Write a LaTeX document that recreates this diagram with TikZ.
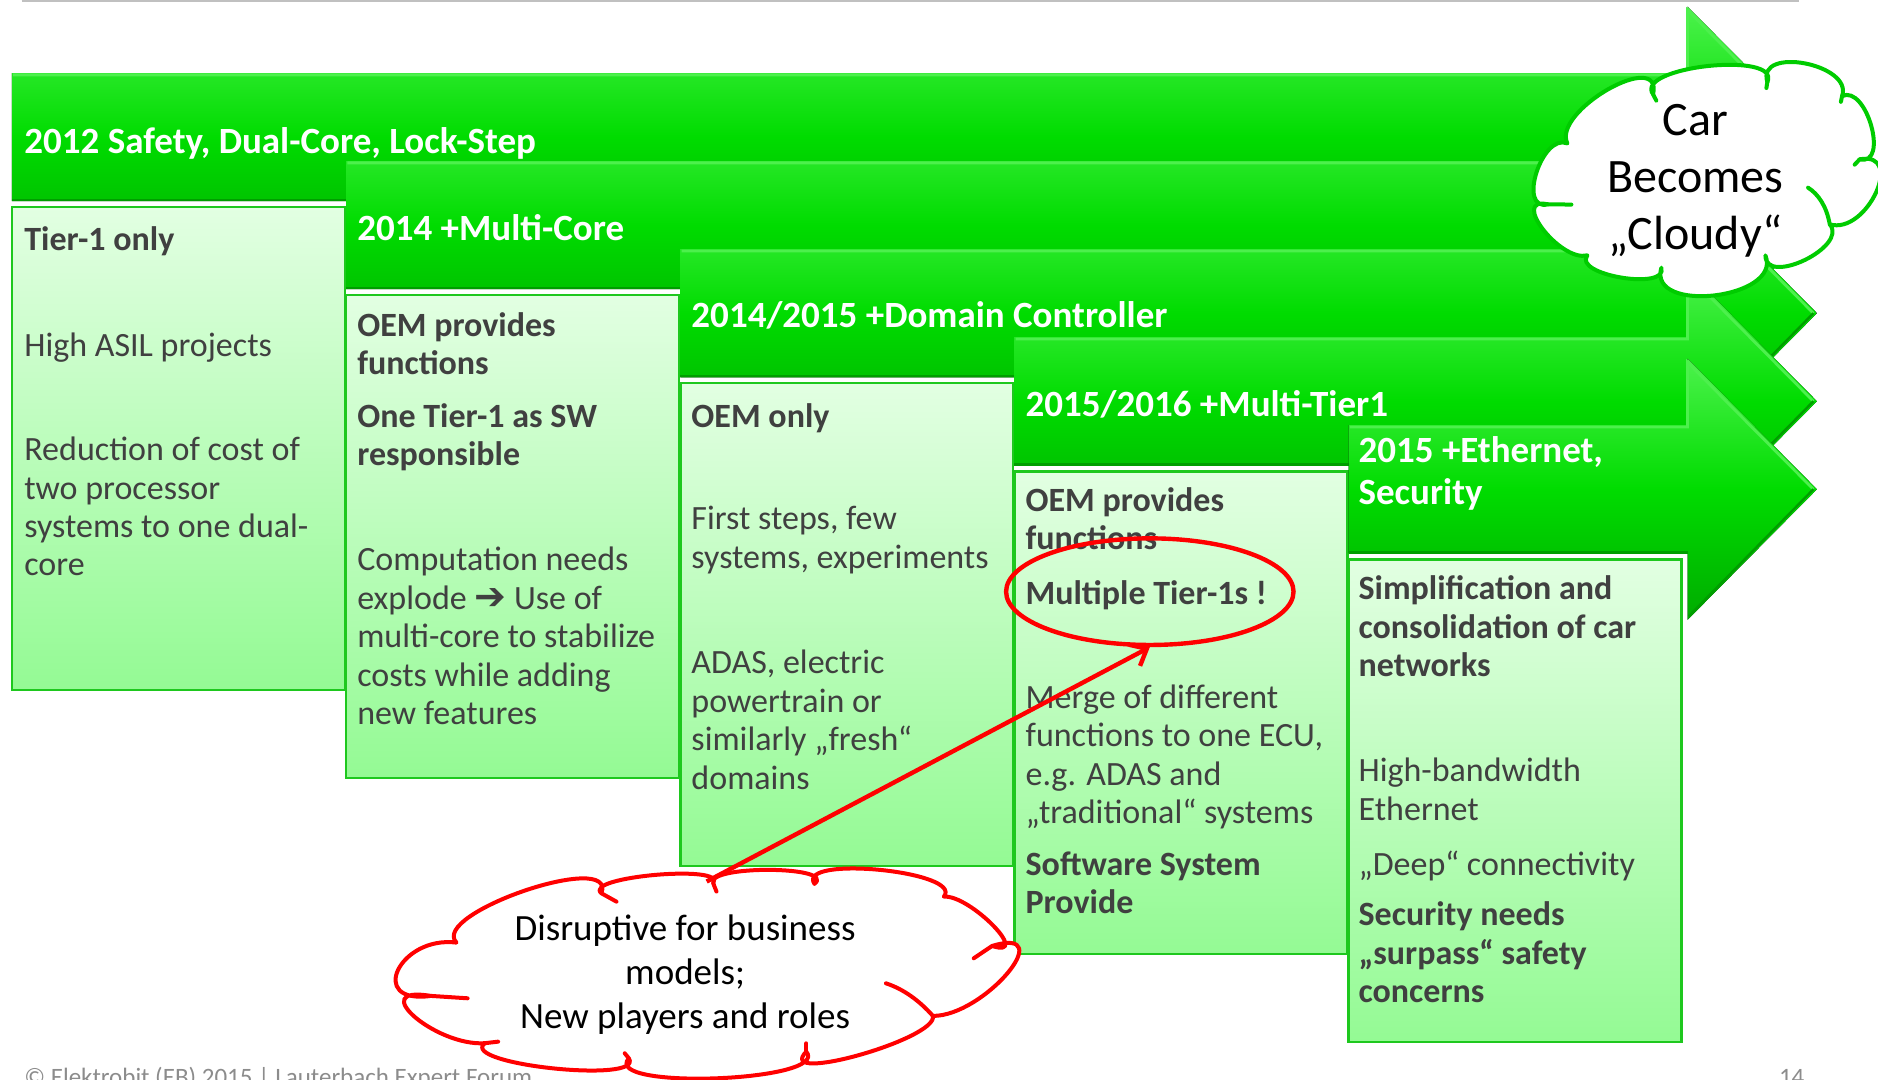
\documentclass[tikz,border=0pt]{standalone}
\usepackage{fontspec}
\setmainfont{Carlito}
\newfontfamily\symfont{DejaVu Sans}
\usetikzlibrary{shapes.geometric,arrows.meta}

% one drawing unit, in pt
\def\pu{0.59885}

\definecolor{arrowtop}{HTML}{4CF24C}
\definecolor{arrowmid}{HTML}{00DC00}
\definecolor{arrowbot}{HTML}{00AC00}
\definecolor{arrowlight}{HTML}{4DF04D}
\definecolor{arrowdark}{HTML}{009E00}
\definecolor{boxtop}{HTML}{E2FFE2}
\definecolor{boxbot}{HTML}{94FA94}
\definecolor{boxline}{HTML}{1EC81E}
\definecolor{bodytext}{HTML}{404040}
\definecolor{alertred}{HTML}{FF0000}
\definecolor{cloudgreen}{HTML}{00CC00}
\definecolor{rulegray}{HTML}{C0C0C0}
\definecolor{footgray}{HTML}{8C8C8C}

\tikzset{
  arrowbody/.style={top color=arrowtop, bottom color=arrowbot, middle color=arrowmid},
  infobox/.style={draw=boxline, line width=1.2pt, top color=boxtop, bottom color=boxbot},
  headtext/.style={anchor=north west, inner sep=0pt, align=left, text=white,
    font=\fontsize{18.5}{21}\selectfont\bfseries, yshift=14.7pt,
    execute at begin node=\strut},
  bodytxt/.style={anchor=north west, inner sep=0pt, align=left, text=bodytext,
    font=\fontsize{17}{19.2}\selectfont, yshift=11.04pt,
    execute at begin node=\strut},
  boldtxt/.style={bodytxt, font=\fontsize{17}{19.2}\selectfont\bfseries},
  cloudred/.style={draw=alertred, fill=white, line width=2pt, line join=round},
  cloudgrn/.style={draw=cloudgreen, fill=white, line width=2pt, line join=round},
  tailred/.style={draw=alertred, line width=2pt, line cap=round},
  tailgrn/.style={draw=cloudgreen, line width=2pt, line cap=round},
  redtext/.style={anchor=north, inner sep=0pt, align=center, text=black,
    font=\fontsize{18.5}{21.9}\selectfont, yshift=15.33pt,
    execute at begin node=\strut},
  greentext/.style={anchor=north, inner sep=0pt, align=center, text=black,
    font=\fontsize{24}{28.7}\selectfont, yshift=20.09pt,
    execute at begin node=\strut},
  foottext/.style={anchor=base west, inner sep=0pt, text=footgray,
    font=\fontsize{12.5}{15}\selectfont},
}

% banner arrow: #1 left edge, #2 top edge
\newcommand\bannerarrow[2]{%
  \fill[arrowbody] (#1,#2) -- (1409,#2) -- (1409,#2+53.5-109) -- (1517,#2+53.5)
    -- (1409,#2+53.5+109) -- (1409,#2+107) -- (#1,#2+107) -- cycle;
  \draw[arrowlight, line width=1.4pt] (#1+1,#2+1.5) -- (1409,#2+1.5)
    -- (1409,#2+53.5-106) -- (1514,#2+53.5);
  \draw[arrowdark, line width=1.2pt] (1514,#2+53.5) -- (1410,#2+53.5+106);
  \draw[arrowdark, line width=1.4pt] (#1,#2+106) -- (1409,#2+106);
}

% content panel: #1 left edge, #2 top edge
\newcommand\panel[2]{%
  \path[infobox] (#1,#2) rectangle (#1+278,#2+403);
}

\begin{document}
\begin{tikzpicture}[x=\pu pt, y=-\pu pt]
\useasboundingbox (0,0) rectangle (1568,901.7);
\clip (0,0) rectangle (1568,901.7);

% rule at the top
\draw[rulegray, line width=1.2pt] (18,1) -- (1502,1);

% banner arrows and their panels
\bannerarrow{10}{61}
\panel{10}{173}
\bannerarrow{289}{134.5}
\panel{289}{246.5}
\bannerarrow{568}{208}
\panel{568}{320}
\bannerarrow{847}{281.5}
\panel{847}{393.5}
\bannerarrow{1126}{355}
\panel{1126}{467}

% banner titles
\node[headtext] (h1) at (20,128) {2012 Safety, Dual-Core, Lock-Step};
\node[headtext] (h2) at (298,200.5) {2014 +Multi-Core};
\node[headtext] (h3) at (577,273) {2014/2015 +Domain Controller};
\node[headtext] (h4) at (856,347) {2015/2016 +Multi-Tier1};
\node[headtext] (h5) at (1134,388.5) {2015 +Ethernet,\\Security};

% panel 1
\node[boldtxt] (t1a) at (20,205) {Tier-1 only};
\node[bodytxt] (t1b) at (20,293) {High ASIL projects};
\node[bodytxt] (t1c) at (20,383) {Reduction of cost of\\two processor\\systems to one dual-\\core};

% panel 2
\node[boldtxt] (t2a) at (298,279) {OEM provides\\functions};
\node[boldtxt] (t2b) at (298,355) {One Tier-1 as SW\\responsible};
\node[bodytxt] (t2c) at (298,475) {Computation needs\\explode {\symfont\bfseries\fontsize{19}{19.2}\selectfont ➔} Use of\\multi-core to stabilize\\costs while adding\\new features};

% panel 3
\node[boldtxt] (t3a) at (577,353) {OEM only};
\node[bodytxt] (t3b) at (577,441) {First steps, few\\systems, experiments};
\node[bodytxt] (t3c) at (577,561) {ADAS, electric\\powertrain or\\similarly „fresh“\\domains};

% panel 4
\node[boldtxt] (t4a) at (856,425) {OEM provides\\functions};
\node[boldtxt] (t4b) at (856,500) {Multiple Tier-1s !};
\node[bodytxt] (t4c) at (856,590) {Merge of different\\functions to one ECU,\\e.g. ADAS and\\„traditional“ systems};
\node[boldtxt] (t4d) at (856,729) {Software System\\Provide};

% panel 5
\node[boldtxt] (t5a) at (1134,499) {Simplification and\\consolidation of car\\networks};
\node[bodytxt] (t5b) at (1134,651) {High-bandwidth\\Ethernet};
\node[bodytxt] (t5c) at (1134,727) {„Deep“ connectivity};
\node[boldtxt] (t5d) at (1134,771) {Security needs\\„surpass“ safety\\concerns};

% green cloud: puffs from junction to junction, then the short inner tails
\path[cloudgrn] (1308.6,119.7)
  .. controls +(-13.1,-26.8) and +(8.3,-39) .. (1380.2,78.8)
  .. controls +(-16.7,-23.2) and +(11.9,-26.2) .. (1475.6,68.5)
  .. controls +(-9.4,-30.4) and +(9.4,-26.8) .. (1538,80.2)
  .. controls +(20.5,-9.8) and +(24.9,6) .. (1552.7,133)
  .. controls +(38.5,-7.1) and +(31,9.1) .. (1527.7,187.3)
  .. controls +(16,18.6) and +(-0.2,26.4) .. (1474,213.2)
  .. controls +(14.4,36.2) and +(-11.6,39.2) .. (1387.1,223.5)
  .. controls +(6,19.4) and +(-12.6,16.4) .. (1325.3,213.2)
  .. controls +(-22.6,5.9) and +(-32.4,-6.9) .. (1292.5,170.6)
  .. controls +(-26.1,6.3) and +(-21.3,-8.9) .. (1308.6,119.7) -- cycle;
\draw[tailgrn] (1380.2,78.8) -- (1382.9,84);
\draw[tailgrn] (1475.6,68.5) -- (1474.8,73.5);
\draw[tailgrn] (1538,80.2) -- (1537,85);
\draw[tailgrn] (1552.7,133) -- (1548.5,137.5);
\draw[tailgrn] (1527.7,187.3) .. controls (1525,172) and (1518,162) .. (1509.6,156.7);
\draw[tailgrn] (1292.5,170.6) -- (1312,170.8);
\node[greentext] (cloudytext) at (1415.5,120) {Car\\Becomes\\„Cloudy“};

% red cloud with its inner tails
\path[cloudred] (381.1,787)
  .. controls +(-22.9,-24.2) and +(13.5,-36.6) .. (502.1,745.8)
  .. controls +(-16.3,-13.7) and +(11.7,-16.1) .. (595.5,737.5)
  .. controls +(-6.4,-15.4) and +(19,-15.2) .. (680,738)
  .. controls +(-15.4,-24.3) and +(17,-21.1) .. (788.1,748.6)
  .. controls +(22,-1.5) and +(34,10.9) .. (828.3,789.8)
  .. controls +(57.4,-17.3) and +(42.6,0.3) .. (778.9,848.2)
  .. controls +(4.6,19.1) and +(-27.2,28.1) .. (673.2,878)
  .. controls +(21,25.2) and +(-23.4,26.8) .. (525,883.6)
  .. controls +(14,21.5) and +(-22,17.7) .. (404.7,871)
  .. controls +(-41.5,2.6) and +(-55.1,-9.2) .. (359.7,831.5)
  .. controls +(-53.9,7.4) and +(-47.5,-6) .. (381.1,787) -- cycle;
\draw[tailred] (502.1,745.8) -- (514.7,752.8);
\draw[tailred] (595.5,737.5) -- (598.2,744.4);
\draw[tailred] (828.3,789.8) -- (813,800.1);
\draw[tailred] (778.9,848.2) .. controls (768,836) and (755,826) .. (739.7,821);
\draw[tailred] (673.2,878) -- (673.2,871.1);
\draw[tailred] (525,883.6) -- (521.6,879.4);
\draw[tailred] (404.7,871) -- (415.9,869.7);
\draw[tailred] (359.7,831.5) -- (390.4,833.5);
\node[redtext] (disrupttext) at (572,789) {Disruptive for business\\models;\\New players and roles};

% ring round the key statement, and the pointer from the red cloud
\node[ellipse, draw=alertred, line width=2.2pt, minimum width={240*\pu pt}, minimum height={89*\pu pt}, inner sep=0pt] (ring) at (960,494) {};
\coordinate (pointerstart) at (590,736);
\draw[alertred, line width=2.2pt, -{Straight Barb[length=7pt, width=12pt]}] (pointerstart) -- (ring.south);

% footer
\node[foottext] (foot) at (20,906) {© Elektrobit (EB) 2015 | Lauterbach Expert Forum};
\node[foottext] (page) at (1485,906) {14};
\end{tikzpicture}
\end{document}
